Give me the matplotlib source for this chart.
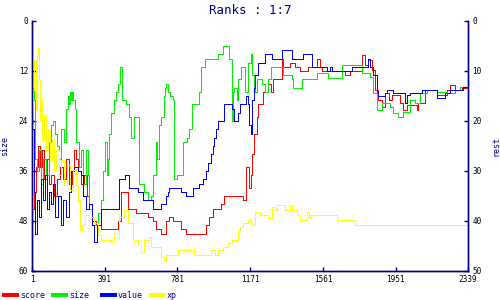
import matplotlib

matplotlib.use("Agg")

import matplotlib.pyplot as plt
from matplotlib.lines import Line2D

NAVY = "#000080"

x_ticks = [1, 391, 781, 1171, 1561, 1951, 2339]
left_ticks = [0, 12, 24, 36, 48, 60]
right_ticks = [0, 10, 20, 30, 40, 50]

# score (red)
score_x = [1, 12, 22, 33, 44, 55, 65, 81, 92, 103, 119, 135, 151, 167, 183, 199, 215,
           226, 236, 247, 263, 279, 295, 306, 322, 343, 370, 461, 477, 515, 557, 622,
           648, 664, 691, 718, 734, 755, 798, 825, 932, 948, 969, 1012, 1028, 1135, 1146,
           1162, 1173, 1183, 1194, 1205, 1215, 1242, 1269, 1280, 1296, 1344, 1349, 1387,
           1413, 1440, 1483, 1531, 1547, 1558, 1681, 1708, 1772, 1788, 1804, 1825, 1841,
           1857, 1879, 1895, 1916, 1932, 1975, 1991, 2013, 2066, 2071, 2109, 2173, 2227,
           2243, 2269, 2307, 2339]
score_y = [45, 41, 35, 30, 35, 31, 38, 33, 39, 37, 42, 38, 35, 38, 33, 39, 36,
           31, 33, 36, 39, 37, 42, 45, 48, 49, 50, 48, 41, 45, 46, 47,
           48, 50, 51, 48, 47, 48, 50, 51, 49, 47, 45, 44, 42, 43, 35,
           40, 37, 32, 27, 23, 20, 17, 15, 17, 14, 9, 11, 10,
           11, 12, 11, 9, 11, 12, 13, 12, 8.2, 10.6, 9.4, 11.8, 16.6,
           19, 20.6, 17.3, 19, 17.8, 19.7, 21.4, 20.2, 21.4, 19.7, 16.6, 17.8, 16.6,
           15.4, 16.6, 16.1, 15.8]

# size (green)
size_x = [1, 12, 17, 28, 38, 49, 60, 76, 92, 103, 113, 124, 135, 145, 156, 172, 183,
          194, 199, 204, 210, 215, 220, 231, 236, 252, 263, 274, 290, 301, 306, 322, 354,
          370, 381, 392, 402, 408, 413, 424, 440, 450, 461, 472, 483, 504, 520, 531,
          547, 573, 600, 622, 638, 648, 664, 670, 680, 691, 707, 712, 718, 729, 739,
          755, 761, 777, 809, 830, 841, 857, 894, 905, 927, 1001, 1023, 1060, 1071,
          1076, 1079, 1082, 1098, 1108, 1124, 1141, 1157, 1173, 1183, 1189, 1199, 1205,
          1215, 1232, 1248, 1264, 1280, 1349, 1397, 1403, 1451, 1531, 1590, 1665, 1772,
          1815, 1831, 1852, 1879, 1922, 1938, 1964, 1991, 2029, 2055, 2082, 2120, 2173,
          2227, 2269, 2296, 2339]
size_y = [16, 19, 33, 36, 31, 39, 33, 37, 29, 25, 24, 27, 30, 33, 26, 29, 21,
          18, 20, 17, 19, 17, 19, 21, 29, 35, 31, 39, 31, 37, 45, 49, 46,
          43, 36, 29, 37, 33, 27, 22, 19, 17, 15, 11, 19, 20, 23, 28,
          23, 39, 41, 43, 42, 37, 29, 33, 25, 23, 18, 16, 15, 17, 18,
          19, 38, 37, 29, 28, 26, 20, 17, 11, 9, 8, 6, 9, 21,
          24, 17, 16, 19, 14, 11, 17, 10, 8, 13, 16, 17, 14,
          14, 15, 17, 14, 11, 13, 14, 16, 14, 12.5, 13.7, 10.6, 12.5,
          13.4, 17.3, 21.4, 19.7, 20.6, 22.1, 23, 21.8, 19, 19.7, 17.3, 16.6, 17,
          17.3, 16.6, 15.8, 15.4]

# value (blue)
value_x = [1, 12, 17, 28, 38, 49, 60, 71, 81, 92, 103, 113, 124, 140, 156, 167, 183,
           199, 210, 226, 247, 263, 274, 290, 306, 322, 333, 349, 370, 466, 499, 520,
           568, 595, 648, 691, 718, 729, 734, 798, 825, 862, 894, 916, 932, 943, 959,
           969, 975, 985, 1001, 1028, 1076, 1082, 1103, 1119, 1146, 1157, 1162, 1173,
           1183, 1189, 1199, 1215, 1253, 1290, 1344, 1397, 1456, 1504, 1584, 1601, 1611,
           1718, 1804, 1815, 1831, 1852, 1857, 1895, 1906, 1938, 2002, 2013, 2029, 2093,
           2173, 2216, 2243, 2312, 2339]
value_y = [26, 41, 51, 43, 47, 38, 43, 37, 45, 41, 44, 39, 47, 42, 49, 43, 47,
           41, 36, 35, 36, 37, 42, 45, 44, 49, 53, 49, 45, 38, 37, 40,
           41, 43, 45, 44, 42, 41, 40, 41, 42, 40, 39, 38, 36, 34, 32,
           30, 28, 26, 24, 20, 21, 24, 22, 20, 18, 20, 25, 27,
           19, 16, 13, 10, 8, 9, 7, 9, 8, 11, 12, 11, 12,
           11, 9, 11, 13, 17, 18, 17.3, 16.6, 17.3, 19.7, 17.8, 17.3, 16.6,
           18.5, 17.3, 16.6, 15.8, 15.8]

# xp (yellow)
xp_x = [1, 12, 22, 28, 33, 38, 44, 49, 55, 65, 76, 87, 97, 108, 119, 129, 145, 156,
        172, 188, 204, 220, 236, 247, 258, 269, 285, 306, 333, 354, 370, 424, 440,
        466, 493, 515, 541, 568, 584, 600, 627, 638, 691, 707, 718, 782, 868, 959,
        980, 1001, 1023, 1050, 1076, 1103, 1119, 1135, 1157, 1173, 1183, 1199, 1226,
        1264, 1290, 1306, 1317, 1360, 1387, 1397, 1424, 1440, 1478, 1488, 1494, 1638,
        1734, 2339]
xp_y = [16.6, 9.4, 21.4, 8.2, 6.5, 14, 23.8, 19, 28.6, 22.6, 31, 26.2, 33.4, 28.6,
        35.8, 31, 37, 33.4, 39.4, 34.6, 40.6, 35.8, 39.4, 43, 50.2, 49, 46.6, 47, 48.5,
        51.4, 52.6, 53, 50.9, 47, 45.4, 48.5, 52.6, 53.8, 55.7, 52.6, 51.8, 54.2, 56.6,
        57.4, 56.2, 55, 56.2, 55, 56.2, 55, 54.2, 53.3, 52.6, 50.2, 49.4, 48.5, 47.8,
        48.2, 49, 45.8, 46.6, 47.3, 44.6, 45.4, 44.2, 45.4, 44.2, 45.4, 46.6, 47.8,
        45.8, 47.3, 46.6, 47.8, 49, 49]

series = [
    ("score", score_x, score_y, "#ff0000"),
    ("size", size_x, size_y, "#00ee00"),
    ("value", value_x, value_y, "#0000ff"),
    ("xp", xp_x, xp_y, "#ffff00"),
]

plt.rcParams["font.family"] = ["DejaVu Sans Mono", "DejaVu Sans"]

fig = plt.figure(figsize=(5, 3), dpi=100)
ax = fig.add_axes([32 / 500, 29 / 300, 436 / 500, 250 / 300])

# the source chart is drawn without anti-aliasing: crisp one-pixel steps
for name, xs, ys, color in series:
    ax.plot(xs, ys, drawstyle="steps-post", color=color, linewidth=0.72,
            antialiased=False)

ax.set_xlim(1, 2339)
ax.set_ylim(60, 0)
ax.set_xticks(x_ticks)
ax.set_yticks(left_ticks)
ax.set_ylabel("size", color=NAVY, fontsize=6, labelpad=7)

ax2 = ax.twinx()
ax2.set_ylim(50, 0)
ax2.set_yticks(right_ticks)
ax2.set_ylabel("rest", color=NAVY, fontsize=6, labelpad=7)

for a in (ax, ax2):
    a.spines["top"].set_visible(False)
    for side in ("left", "right", "bottom"):
        a.spines[side].set_color(NAVY)
        a.spines[side].set_linewidth(1.0)
    a.tick_params(direction="in", length=3, width=1, color=NAVY,
                  labelsize=5.6, labelcolor="black", pad=3)

ax.set_title("Ranks : 1:7", color=NAVY, fontsize=9, pad=5)

# legend drawn along the bottom edge in fixed-width slots
for i, (name, xs, ys, color) in enumerate(series):
    x0 = (4 + 49 * i) / 500
    fig.add_artist(Line2D([x0, x0 + 13 / 500], [5 / 300, 5 / 300],
                          color=color, linewidth=1.5, antialiased=False,
                          transform=fig.transFigure))
    fig.text(x0 + 16 / 500, 5 / 300, name, color=NAVY, fontsize=6,
             va="center", ha="left")

fig.savefig("out.png", dpi=100)
